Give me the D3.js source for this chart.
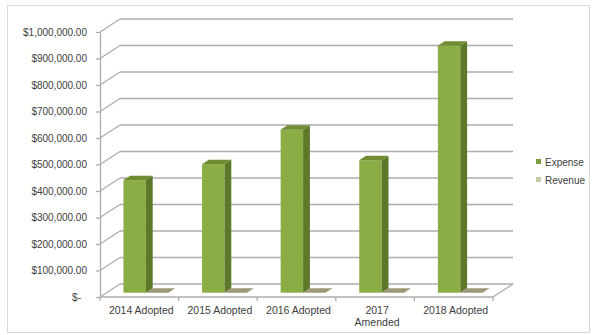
<!DOCTYPE html>
<html>
<head>
<meta charset="utf-8">
<script src="https://cdn.jsdelivr.net/npm/d3@7"></script>
<style>
  html, body { margin: 0; padding: 0; background: #fff; }
  svg { display: block; font-family: "Liberation Sans", Arial, sans-serif; }
</style>
</head>
<body>
<svg id="chart" width="592" height="335"></svg>
<script>
// ---- Data ----
const categories = ["2014 Adopted", "2015 Adopted", "2016 Adopted", "2017 Amended", "2018 Adopted"];
const categoryLines = [["2014 Adopted"], ["2015 Adopted"], ["2016 Adopted"], ["2017", "Amended"], ["2018 Adopted"]];
const seriesNames = ["Expense", "Revenue"];
const expenseValues = [425000, 485000, 615000, 500000, 932000];
const revenueValues = [0, 0, 0, 0, 0];
const yTickValues = [0, 100000, 200000, 300000, 400000, 500000, 600000, 700000, 800000, 900000, 1000000];
const yTickLabels = ["$-", "$100,000.00", "$200,000.00", "$300,000.00", "$400,000.00", "$500,000.00",
                     "$600,000.00", "$700,000.00", "$800,000.00", "$900,000.00", "$1,000,000.00"];

// ---- Layout ----
const svg = d3.select("#chart");
const X0 = 100, X1 = 493, YB = 297, YT = 32;
const DX = 20, DY = -13;           // full floor depth offset
const dA = 0.33, dB = 0.67;        // bar depth range (fraction)
const gridColor = "#adadad";
const textColor = "#404040";
const colors = {
  Expense: { front: "#8bad46", side: "#5d7829", top: "#6f8c33", legend: "#7b9c3a" },
  Revenue: { front: "#c2c8a2", side: "#8f8f6c", top: "#9d9877", legend: "#c4c9a6" }
};

// outer frame
svg.append("rect").attr("x", 7.5).attr("y", 5.5).attr("width", 582).attr("height", 327)
  .attr("fill", "#fff").attr("stroke", "#d9d9d9").attr("stroke-width", 1);

const x = d3.scaleBand().domain(categories).range([X0, X1]).paddingInner(0.4286).paddingOuter(0.2143);
const xs = d3.scaleBand().domain(seriesNames).range([0, x.bandwidth()]);
const y = d3.scaleLinear().domain([0, 1000000]).range([YB, YT]);

// walls: back wall gridlines and side wall diagonals
const g = svg.append("g");
yTickValues.forEach(v => {
  const yy = y(v);
  g.append("line").attr("x1", X0 + DX).attr("x2", X1 + DX).attr("y1", yy + DY).attr("y2", yy + DY)
    .attr("stroke", gridColor).attr("stroke-width", 1.3);
  g.append("line").attr("x1", X0).attr("y1", yy).attr("x2", X0 + DX).attr("y2", yy + DY)
    .attr("stroke", gridColor).attr("stroke-width", 1.3);
});
// floor edges
g.append("line").attr("x1", X1).attr("y1", YB).attr("x2", X1 + DX).attr("y2", YB + DY)
  .attr("stroke", gridColor).attr("stroke-width", 1.3);
g.append("line").attr("x1", X0).attr("y1", YB).attr("x2", X1).attr("y2", YB)
  .attr("stroke", gridColor).attr("stroke-width", 1.3);

// y axis
const yAxis = d3.axisLeft(y).tickValues(yTickValues)
  .tickFormat((d, i) => yTickLabels[i]).tickSizeInner(4).tickSizeOuter(0).tickPadding(9);
const ya = svg.append("g").attr("transform", `translate(${X0},0)`).call(yAxis);
ya.select(".domain").attr("stroke", gridColor).attr("stroke-width", 1.3);
ya.selectAll(".tick line").attr("stroke", gridColor).attr("stroke-width", 1.3);
ya.selectAll(".tick text").attr("fill", textColor).style("font-size", "10px")
  .attr("font-family", "Liberation Sans, Arial, sans-serif")
  .attr("dx", d => d === 0 ? -6 : 0);

// x axis ticks at boundaries
const bounds = categories.map((c, i) => X0 + i * x.step()).concat([X1]);
svg.selectAll(".xtick").data(bounds).enter().append("line")
  .attr("x1", d => d).attr("x2", d => d).attr("y1", YB).attr("y2", YB + 4)
  .attr("stroke", gridColor).attr("stroke-width", 1.3);

// category labels
categories.forEach((c, i) => {
  const cx = x(c) + x.bandwidth() / 2 + 2;
  const t = svg.append("text").attr("x", cx).attr("y", 313.5).attr("text-anchor", "middle")
    .attr("fill", textColor).style("font-size", "10.5px");
  categoryLines[i].forEach((ln, j) => {
    t.append("tspan").attr("x", cx).attr("dy", j === 0 ? 0 : 12).text(ln);
  });
});

// bars (pseudo-3D)
function drawBar(parent, x0, w, v, col) {
  const fx = x0 + dA * DX, fy = dA * DY;
  const bx = (dB - dA) * DX, by = (dB - dA) * DY;
  const yTop = y(v) + fy, yBot = y(0) + fy;
  const left = fx, right = fx + w;
  if (yBot - yTop > 0.5) {
    parent.append("rect").attr("x", left).attr("y", yTop).attr("width", w).attr("height", yBot - yTop)
      .attr("fill", col.front);
    parent.append("path").attr("d",
      `M${right},${yTop}L${right + bx},${yTop + by}L${right + bx},${yBot + by}L${right},${yBot}Z`)
      .attr("fill", col.side);
  }
  parent.append("path").attr("d",
    `M${left},${yTop}L${left + bx},${yTop + by}L${right + bx},${yTop + by}L${right},${yTop}Z`)
    .attr("fill", col.top);
}
const bars = svg.append("g");
categories.forEach((c, i) => {
  drawBar(bars, x(c) + xs("Expense"), xs.bandwidth(), expenseValues[i], colors.Expense);
  drawBar(bars, x(c) + xs("Revenue"), xs.bandwidth(), revenueValues[i], colors.Revenue);
});

// legend
const legend = svg.append("g");
seriesNames.forEach((s, i) => {
  const ly = 162 + i * 18;
  legend.append("rect").attr("x", 536).attr("y", ly - 3).attr("width", 5).attr("height", 5)
    .attr("fill", colors[s].legend);
  legend.append("text").attr("x", 545).attr("y", ly + 3.5).attr("fill", textColor)
    .style("font-size", "10px").text(s);
});
</script>
</body>
</html>
